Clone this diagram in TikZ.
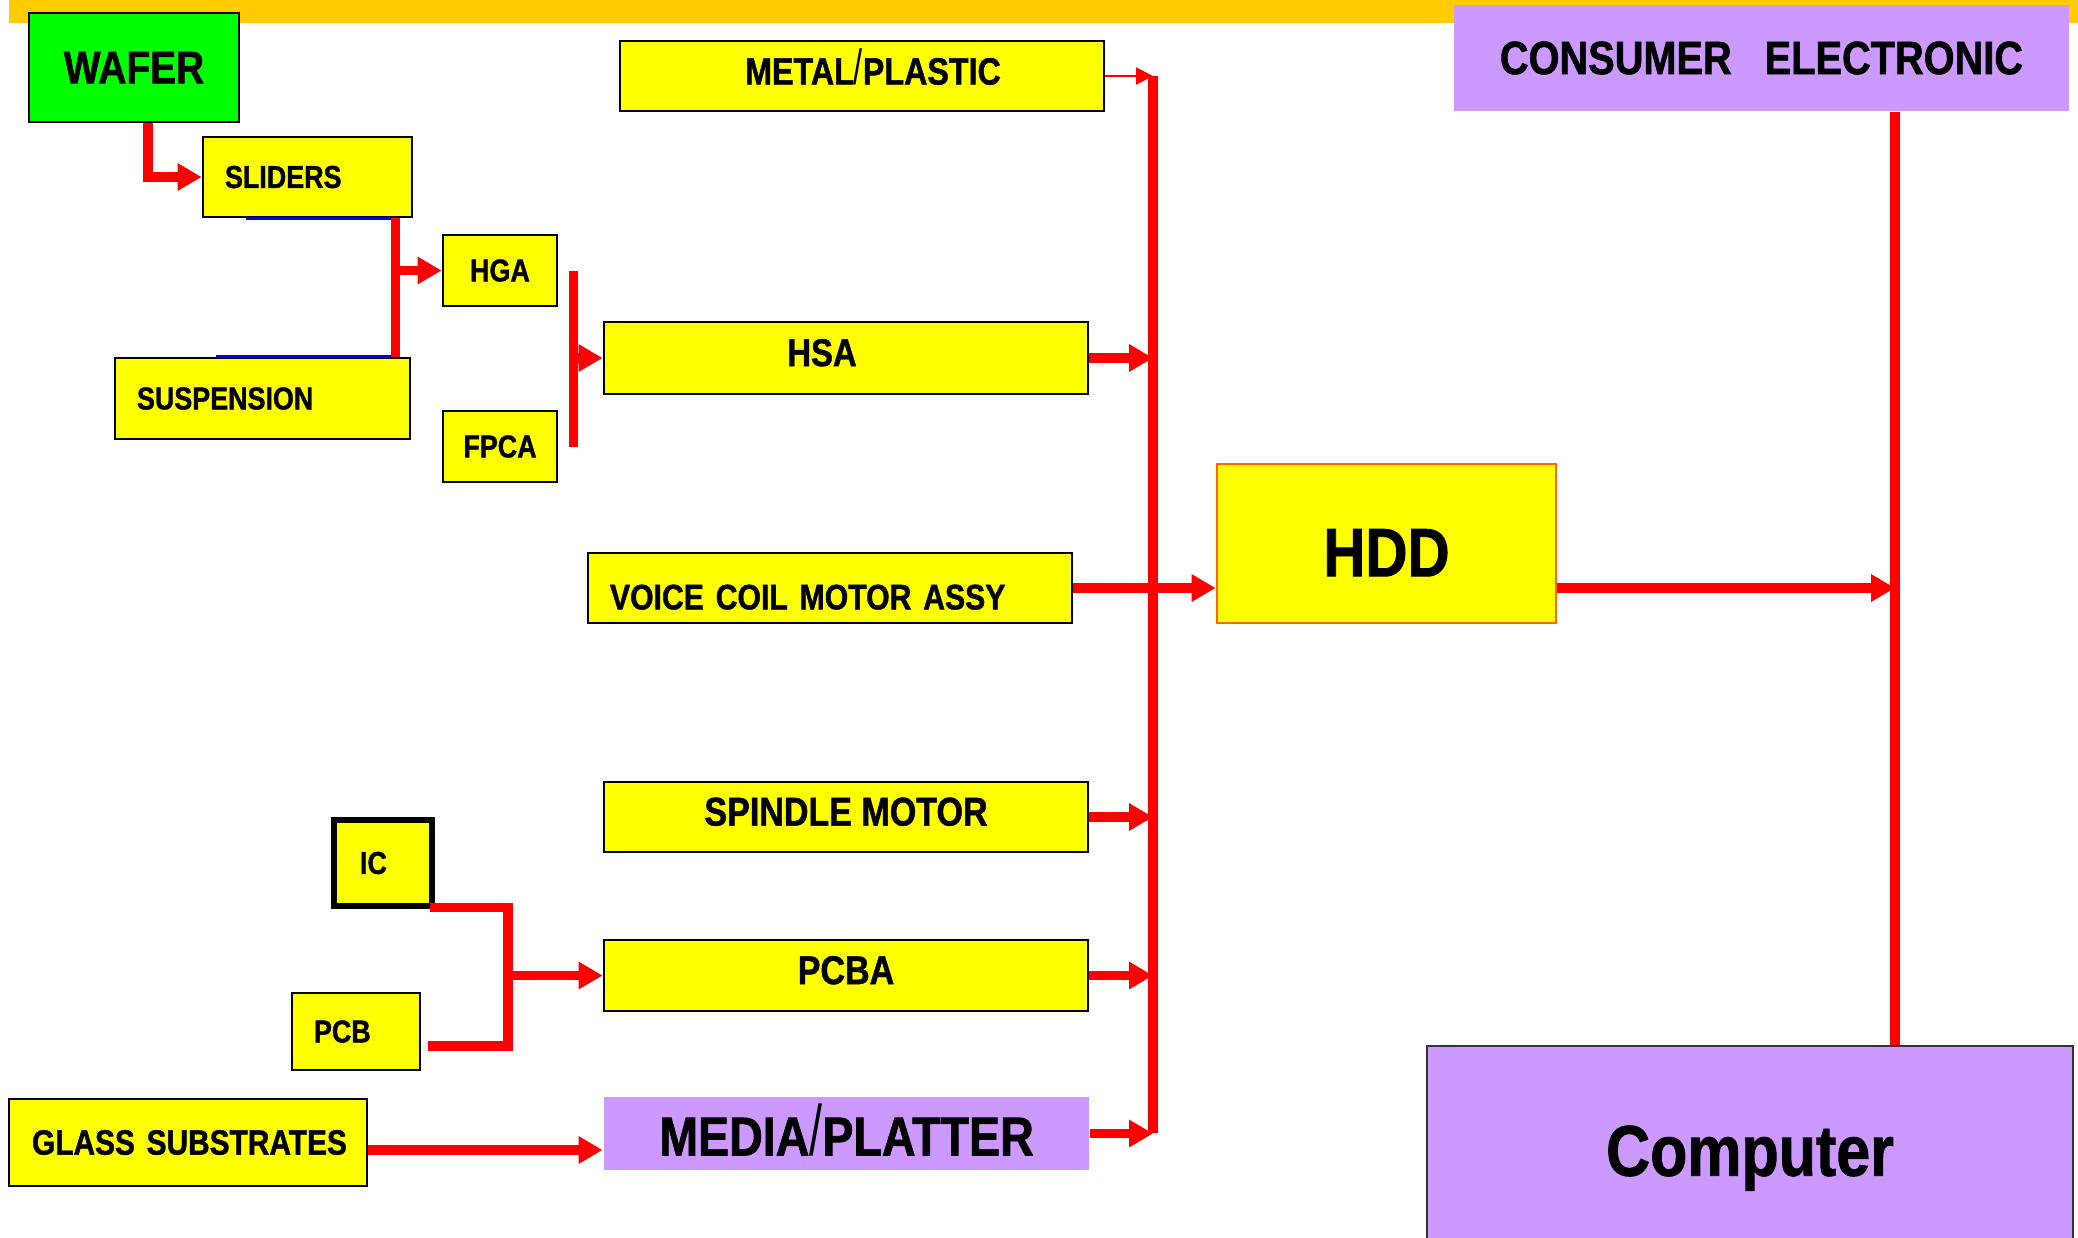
\documentclass[tikz,border=0pt]{standalone}
\usepackage{fontspec}
\setmainfont{Liberation Sans}[FakeStretch=0.85, BoldFeatures={FakeBold=1.2}]
\usetikzlibrary{arrows.meta}

\definecolor{partyellow}{HTML}{FFFF00}
\definecolor{wafergreen}{HTML}{00FF00}
\definecolor{lilac}{HTML}{CC99FF}
\definecolor{barorange}{HTML}{FFCC00}
\definecolor{flowred}{HTML}{FF0000}
\definecolor{hddedge}{HTML}{FF6600}

\newcommand{\fsz}[1]{\fontsize{#1}{#1}\selectfont}
\newcommand{\tallslash}{{\mdseries\scalebox{1}[1.3]{/}}}
\newcommand{\lift}[2]{\raisebox{#1}[\height][\depth]{#2}}

\begin{document}
\begin{tikzpicture}[
  part/.style={draw=black, line width=0.8pt, fill=partyellow, inner sep=0pt, font=\bfseries},
  lpart/.style={part, align=left, text width=#1},
  flow/.style={draw=flowred, line width=2.6pt, -{Triangle[length=6.8pt,width=7.4pt]}},
  thinflow/.style={draw=flowred, line width=0.6pt, -{Triangle[length=4.8pt,width=4.8pt]}},
  rail/.style={draw=flowred, line width=2.6pt},
  seam/.style={draw=blue, line width=0.8pt}
]
\useasboundingbox (0,0) rectangle (20.78,-12.37);
\fill[white] (0,0) rectangle (20.78,-12.37);
\fill[barorange] (0.09,0) rectangle (20.78,-0.23);

% head side
\node[part, fill=wafergreen, minimum width=2.10cm, minimum height=1.09cm, font=\bfseries\fsz{13}] (wafer) at (1.34,-0.675) {WAFER};
\node[lpart=1.65cm, minimum width=2.09cm, minimum height=0.80cm, font=\bfseries\fsz{9}] (sliders) at (3.075,-1.77) {SLIDERS};
\node[lpart=2.51cm, minimum width=2.95cm, minimum height=0.81cm, font=\bfseries\fsz{9}] (susp) at (2.625,-3.985) {SUSPENSION};
\node[part, minimum width=1.14cm, minimum height=0.71cm, font=\bfseries\fsz{9}] (hga) at (5.00,-2.705) {HGA};
\node[part, minimum width=1.14cm, minimum height=0.71cm, font=\bfseries\fsz{9}] (fpca) at (5.00,-4.465) {FPCA};

% sub assemblies
\node[part, minimum width=4.84cm, minimum height=0.70cm, font=\bfseries\fsz{10.8}] (metal) at (8.62,-0.76) {\lift{2.6pt}{\hspace{0.22cm}METAL\tallslash PLASTIC}};
\node[part, minimum width=4.84cm, minimum height=0.72cm, font=\bfseries\fsz{11}] (hsa) at (8.46,-3.58) {\lift{1.5pt}{HSA}\kern0.48cm};
\node[lpart=4.40cm, minimum width=4.84cm, minimum height=0.70cm, font=\bfseries\fsz{10.1}] (vcm) at (8.30,-5.88) {\lift{-2.6pt}{VOICE COIL MOTOR ASSY}};
\node[part, minimum width=4.84cm, minimum height=0.70cm, font=\bfseries\fsz{11.4}] (spindle) at (8.46,-8.17) {\lift{1.5pt}{SPINDLE MOTOR}};
\node[part, minimum width=4.84cm, minimum height=0.71cm, font=\bfseries\fsz{11.4}] (pcba) at (8.46,-9.755) {\lift{1.5pt}{PCBA}};
\node[part, draw=none, fill=lilac, minimum width=4.85cm, minimum height=0.73cm, font=\bfseries\fsz{15.6}] (media) at (8.465,-11.335) {\lift{1pt}{MEDIA\tallslash PLATTER}};

% electronics side
\node[part, line width=1.5pt, minimum width=0.98cm, minimum height=0.86cm, font=\bfseries\fsz{9}] (ic) at (3.83,-8.63) {IC\kern0.19cm};
\node[lpart=0.84cm, minimum width=1.28cm, minimum height=0.77cm, font=\bfseries\fsz{9}] (pcb) at (3.56,-10.315) {PCB};
\node[lpart=3.12cm, minimum width=3.58cm, minimum height=0.87cm, font=\bfseries\fsz{10}] (glass) at (1.88,-11.425) {\mbox{GLASS SUBSTRATES}};

% drive and products
\node[part, draw=hddedge, minimum width=3.39cm, minimum height=1.59cm, font=\bfseries\fsz{19.5}] (hdd) at (13.865,-5.435) {\lift{-2.6pt}{HDD}};
\node[part, draw=none, fill=lilac, minimum width=6.15cm, minimum height=1.06cm, font=\bfseries\fsz{13.3}] (consumer) at (17.615,-0.58) {CONSUMER \ \ ELECTRONIC};
\node[part, draw=black!80, fill=lilac, minimum width=6.46cm, minimum height=2.08cm, font=\bfseries\fsz{20.4}] (computer) at (17.50,-11.50) {\lift{-2.3pt}{Computer}};

% wafer to sliders
\draw[flow] ([xshift=0.14cm]wafer.south) |- (sliders.west);

% sliders + suspension to hga
\coordinate (slbot) at ([xshift=-0.18cm]sliders.south east);
\coordinate (sutop) at (slbot |- susp.north);
\draw[seam] ([xshift=0.44cm]sliders.south west) -- (slbot);
\draw[seam] ([xshift=1.02cm]susp.north west) -- (sutop);
\draw[rail] (slbot) -- (sutop);
\draw[flow] (slbot |- hga.west) -- (hga.west);

% hga + fpca to hsa
\coordinate (hgtop) at ([xshift=0.15cm]hga.east);
\coordinate (fpbot) at ([xshift=0.15cm]fpca.east);
\draw[rail] (hgtop) -- (fpbot);
\draw[flow] (hgtop |- hsa.west) -- (hsa.west);

% ic + pcb to pcba
\coordinate (pcbout) at ([xshift=0.07cm,yshift=-0.145cm]pcb.east);
\coordinate (pcbjoin) at (5.08,0 |- pcbout);
\draw[rail] ([xshift=-0.05cm,yshift=0.01cm]ic.south east) -| (pcbjoin) -- (pcbout);
\draw[flow] (pcbjoin |- pcba.west) -- (pcba.west);

% glass to media
\coordinate (gout) at ([yshift=-0.075cm]glass.east);
\draw[flow] (gout) -- (gout -| media.west);

% bus into the drive
\coordinate (bustop) at (11.53,-0.76);
\coordinate (busbot) at (11.53,-11.33);
\draw[rail] (bustop) -- (busbot);
\draw[thinflow] (metal.east) -- (metal.east -| bustop);
\foreach \p in {hsa,spindle,pcba,media}
  \draw[flow] (\p.east) -- (\p.east -| bustop);
\draw[flow] (vcm.east) -- (vcm.east -| hdd.west);

% drive to products
\coordinate (cetop) at ([xshift=1.335cm]consumer.south);
\coordinate (cebot) at (cetop |- computer.north);
\draw[rail] (cetop) -- (cebot);
\draw[flow] (hdd.east |- vcm.east) -- (cetop |- vcm.east);

\end{tikzpicture}
\end{document}
